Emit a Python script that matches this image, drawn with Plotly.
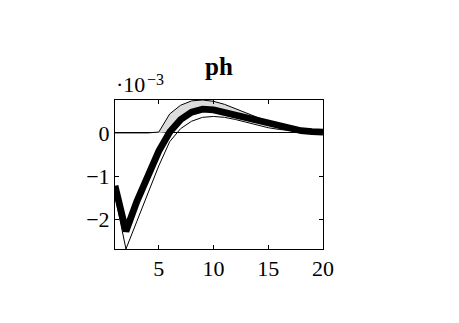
import numpy as np
import plotly.graph_objects as go

# horizon (quarters)
periods = list(range(1, 21))
# impulse response of ph (units of 1e-3)
mean_resp = [-1.22, -2.27, -1.58, -0.96, -0.42, 0.02, 0.31, 0.48, 0.55, 0.53,
             0.47, 0.40, 0.32, 0.25, 0.19, 0.13, 0.08, 0.05, 0.03, 0.02]
# upper band as drawn (sits on the zero line while negative)
upper_band = [0.0, 0.0, 0.0, 0.0, 0.02, 0.44, 0.64, 0.74, 0.76, 0.73,
              0.66, 0.56, 0.45, 0.35, 0.26, 0.17, 0.11, 0.07, 0.04, 0.03]
lower_band = [-1.45, -2.68, -2.04, -1.40, -0.76, -0.20, 0.10, 0.27, 0.36, 0.38,
              0.36, 0.31, 0.25, 0.18, 0.12, 0.08, 0.05, 0.03, 0.02, 0.01]
x_ticks = [5, 10, 15, 20]
y_ticks = [-2, -1, 0]
y_tick_labels = ["\u22122", "\u22121", "0"]

FONT = "Liberation Serif"

fig = go.Figure()

# shaded region between mean and upper band (above zero)
fig.add_trace(go.Scatter(x=periods, y=np.maximum(mean_resp, 0), mode="lines",
                         line=dict(width=0), showlegend=False, hoverinfo="skip"))
fig.add_trace(go.Scatter(x=periods, y=upper_band, mode="lines",
                         line=dict(width=0), fill="tonexty",
                         fillcolor="#dcdcdc", showlegend=False, hoverinfo="skip"))
# band boundaries
fig.add_trace(go.Scatter(x=periods, y=upper_band, mode="lines",
                         line=dict(color="black", width=1), showlegend=False))
fig.add_trace(go.Scatter(x=periods, y=lower_band, mode="lines",
                         line=dict(color="black", width=1), showlegend=False))
# mean response
fig.add_trace(go.Scatter(x=periods, y=mean_resp, mode="lines",
                         line=dict(color="black", width=6.8), showlegend=False))

# page body has an 8px margin, so the figure is offset by (8, 8)
W, H = 451, 315
L, T = 107, 92
PW, PH = 208, 149

fig.update_layout(
    width=W, height=H,
    margin=dict(l=L, r=W - L - PW, t=T, b=H - T - PH),
    paper_bgcolor="white", plot_bgcolor="white",
    font=dict(family=FONT, size=22, color="black"),
    title=dict(text="<b>ph</b>", x=(L + PW / 2) / W, xanchor="center",
               y=1 - 58 / H, yanchor="middle",
               font=dict(family=FONT, size=25, color="black")),
    xaxis=dict(range=[1, 20], tickvals=x_ticks, ticktext=[str(v) for v in x_ticks],
               showgrid=False, zeroline=False, showline=True, linecolor="black",
               linewidth=1, mirror="allticks", ticks="inside", ticklen=4,
               tickcolor="black", tickfont=dict(family=FONT, size=22)),
    yaxis=dict(range=[-2.68, 0.76], tickvals=y_ticks, ticktext=y_tick_labels,
               showgrid=False, zeroline=True, zerolinecolor="black",
               zerolinewidth=1, showline=True, linecolor="black", linewidth=1,
               mirror="allticks", ticks="inside", ticklen=4, tickcolor="black",
               tickfont=dict(family=FONT, size=22)),
    annotations=[
        dict(text="\u00b710", xref="paper", yref="paper",
             x=0, y=1, xanchor="left", yanchor="bottom", yshift=1, xshift=-1,
             showarrow=False, font=dict(family=FONT, size=22)),
        dict(text="\u22123", xref="paper", yref="paper",
             x=0, y=1, xanchor="left", yanchor="bottom", yshift=10, xshift=30,
             showarrow=False, font=dict(family=FONT, size=16)),
    ],
)

fig.write_html("out.html")
